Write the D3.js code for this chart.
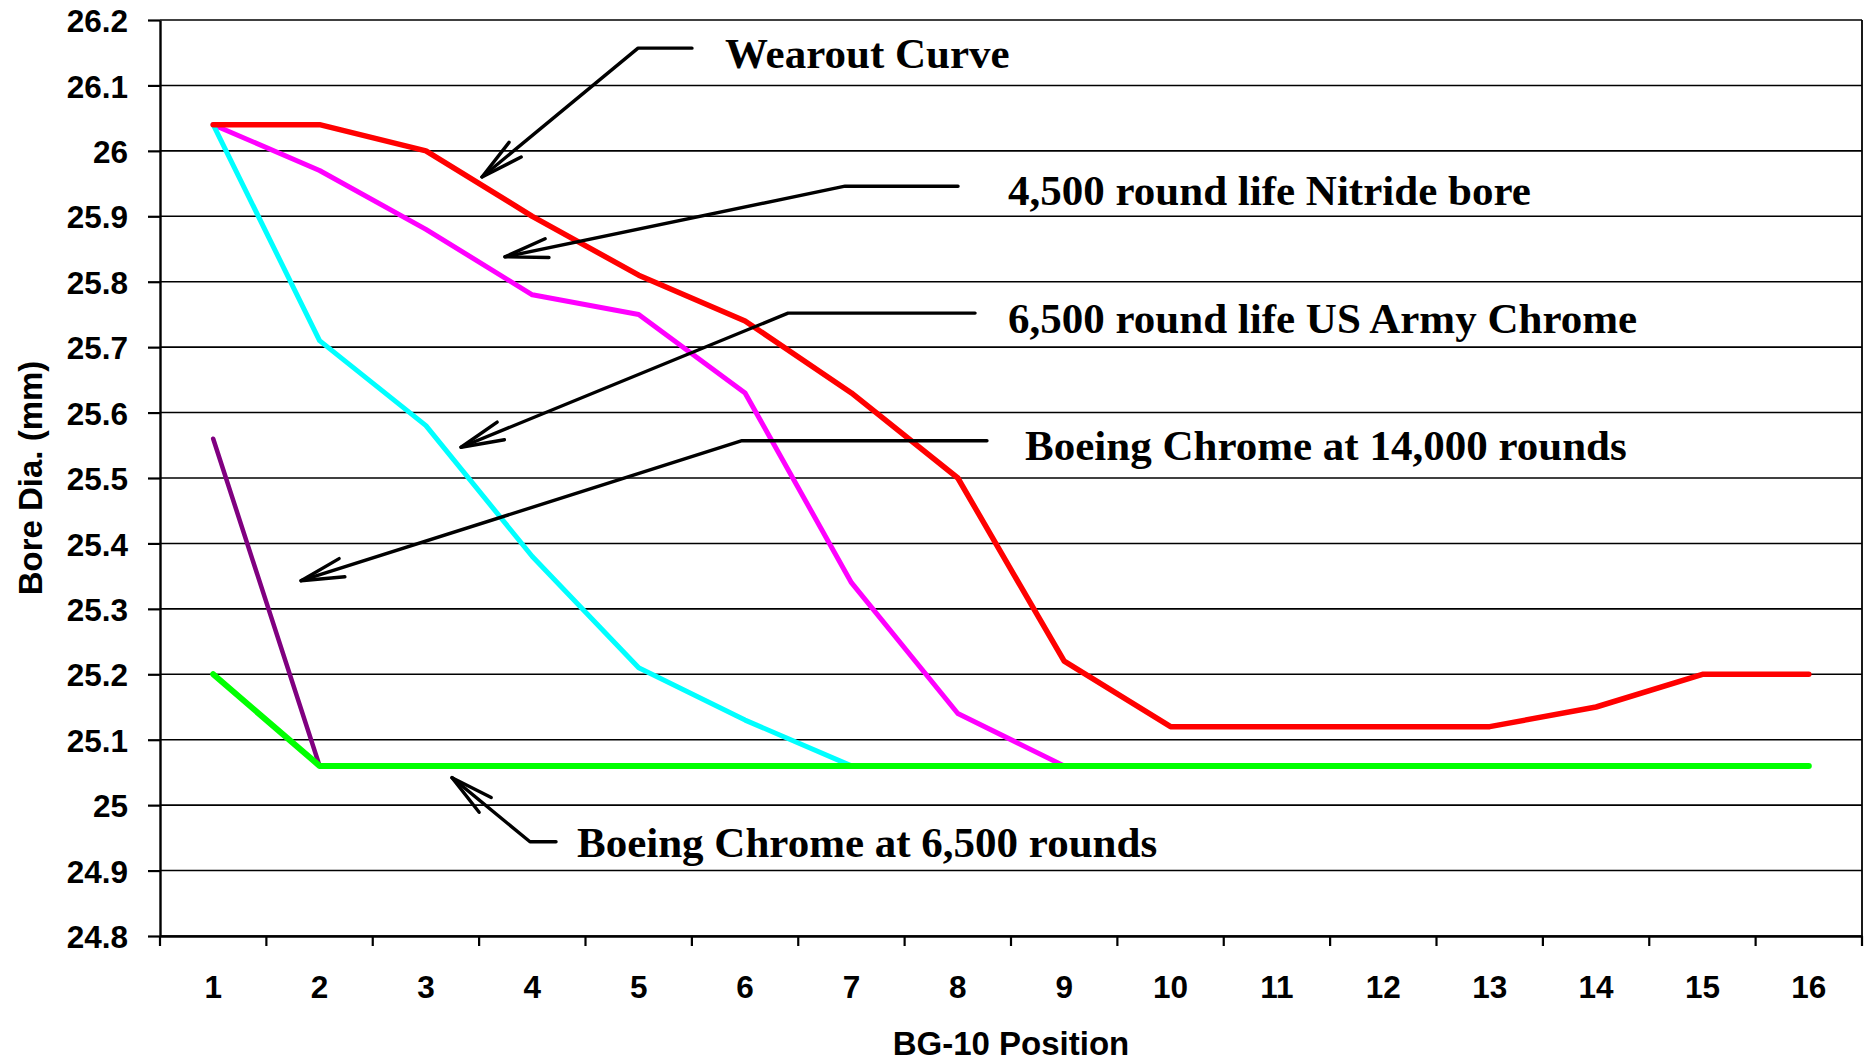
<!DOCTYPE html>
<html>
<head>
<meta charset="utf-8">
<script src="https://cdn.jsdelivr.net/npm/d3@7"></script>
<style>
  html, body { margin: 0; padding: 0; background: #fff; }
  svg { display: block; }
</style>
</head>
<body>
<svg id="chart" width="1864" height="1064"></svg>
<script>
// ---------------- Data ----------------
const positions = [1, 2, 3, 4, 5, 6, 7, 8, 9, 10, 11, 12, 13, 14, 15, 16];
const yTicks = [24.8, 24.9, 25.0, 25.1, 25.2, 25.3, 25.4, 25.5, 25.6, 25.7, 25.8, 25.9, 26.0, 26.1, 26.2];
const yTickLabels = ["24.8", "24.9", "25", "25.1", "25.2", "25.3", "25.4", "25.5", "25.6", "25.7", "25.8", "25.9", "26", "26.1", "26.2"];

const wearoutCurve   = [26.04, 26.04, 26.00, 25.90, 25.81, 25.74, 25.63, 25.50, 25.22, 25.12, 25.12, 25.12, 25.12, 25.15, 25.20, 25.20];
const nitride4500    = [26.04, 25.97, 25.88, 25.78, 25.75, 25.63, 25.34, 25.14, 25.06];
const armyChrome6500 = [26.04, 25.71, 25.58, 25.38, 25.21, 25.13, 25.06];
const boeing14000    = [25.56, 25.06];
const boeing6500     = [25.20, 25.06, 25.06, 25.06, 25.06, 25.06, 25.06, 25.06, 25.06, 25.06, 25.06, 25.06, 25.06, 25.06, 25.06, 25.06];

const seriesNames  = ["Boeing Chrome at 14,000 rounds", "4,500 round life Nitride bore", "6,500 round life US Army Chrome", "Wearout Curve", "Boeing Chrome at 6,500 rounds"];
const seriesValues = [boeing14000, nitride4500, armyChrome6500, wearoutCurve, boeing6500];
const seriesColors = ["#800080", "#FF00FF", "#00FFFF", "#FF0000", "#00FF00"];
const seriesWidths = [4.5, 5, 5, 5.5, 6];

// Annotation callouts, in data units (x = BG-10 position, y = bore dia. mm)
const annotationTexts  = ["Wearout Curve", "4,500 round life Nitride bore", "6,500 round life US Army Chrome", "Boeing Chrome at 14,000 rounds", "Boeing Chrome at 6,500 rounds"];
const annotationTips   = [[3.527, 25.960], [3.743, 25.838], [3.330, 25.547], [1.826, 25.343], [3.245, 25.042]];
const annotationElbows = [[4.994, 26.157], [6.940, 25.946], [6.404, 25.752], [5.971, 25.557], [3.978, 24.944]];
const annotationEnds   = [[5.501, 26.157], [8.002, 25.946], [8.162, 25.752], [8.274, 25.557], [4.223, 24.944]];
const annotationLabels = [[5.811, 26.127], [8.472, 25.917], [8.472, 25.722], [8.632, 25.528], [4.420, 24.921]];

// ---------------- Layout ----------------
const W = 1864, H = 1064;
const pLeft = 160, pRight = 1862, pTop = 20, pBottom = 936;

const svg = d3.select("#chart");
svg.append("rect").attr("width", W).attr("height", H).attr("fill", "#fff");

const x = d3.scaleBand().domain(positions).range([pLeft, pRight]).paddingInner(0).paddingOuter(0);
const xLin = d3.scaleLinear().domain([0.5, 16.5]).range([pLeft, pRight]);
const y = d3.scaleLinear().domain([24.8, 26.2]).range([pBottom, pTop]);
const cx = d => x(d) + x.bandwidth() / 2;

const sansFont = "'Liberation Sans', Arial, Helvetica, sans-serif";
const serifFont = "'Liberation Serif', 'Times New Roman', Times, serif";

// Gridlines
svg.append("g").selectAll("line").data(yTicks).join("line")
  .attr("x1", pLeft).attr("x2", pRight)
  .attr("y1", d => y(d)).attr("y2", d => y(d))
  .attr("stroke", "#000").attr("stroke-width", 1.6);

// Right border
svg.append("line").attr("x1", pRight).attr("x2", pRight).attr("y1", pTop).attr("y2", pBottom)
  .attr("stroke", "#000").attr("stroke-width", 1.8);

// Y axis
const yAxis = d3.axisLeft(y).tickValues(yTicks).tickSize(12).tickSizeOuter(0).tickPadding(20)
  .tickFormat((d, i) => yTickLabels[i]);
const gy = svg.append("g").attr("transform", `translate(${pLeft},0)`).call(yAxis);
gy.select(".domain").attr("stroke", "#000").attr("stroke-width", 2.4);
gy.selectAll(".tick line").attr("stroke", "#000").attr("stroke-width", 2.2);
gy.selectAll(".tick text").attr("font-family", sansFont).attr("font-weight", "bold")
  .attr("font-size", 31.5).attr("fill", "#000").attr("dy", "0.37em");

// X axis (labels at category centres)
const xAxis = d3.axisBottom(x).tickSize(0).tickSizeOuter(0).tickPadding(40);
const gx = svg.append("g").attr("transform", `translate(0,${pBottom})`).call(xAxis);
gx.select(".domain").attr("stroke", "#000").attr("stroke-width", 2.4);
gx.selectAll(".tick text").attr("font-family", sansFont).attr("font-weight", "bold")
  .attr("font-size", 31.5).attr("fill", "#000");

// X tick marks at category boundaries
const boundaries = d3.range(positions.length + 1).map(i => i + 0.5);
svg.append("g").selectAll("line").data(boundaries).join("line")
  .attr("x1", d => xLin(d)).attr("x2", d => xLin(d))
  .attr("y1", pBottom).attr("y2", pBottom + 10)
  .attr("stroke", "#000").attr("stroke-width", 2.2);

// Axis titles
svg.append("text").attr("x", (pLeft + pRight) / 2).attr("y", 1055)
  .attr("text-anchor", "middle").attr("font-family", sansFont).attr("font-weight", "bold")
  .attr("font-size", 33).attr("fill", "#000").text("BG-10 Position");

svg.append("text").attr("transform", `translate(42,${(pTop + pBottom) / 2}) rotate(-90)`)
  .attr("text-anchor", "middle").attr("font-family", sansFont).attr("font-weight", "bold")
  .attr("font-size", 33).attr("fill", "#000").text("Bore Dia. (mm)");

// Series lines
const line = d3.line().x((d, i) => cx(positions[i])).y(d => y(d));
svg.append("g").selectAll("path").data(seriesValues).join("path")
  .attr("d", d => line(d))
  .attr("fill", "none")
  .attr("stroke", (d, i) => seriesColors[i])
  .attr("stroke-width", (d, i) => seriesWidths[i])
  .attr("stroke-linejoin", "round")
  .attr("stroke-linecap", "round")
  .append("title").text((d, i) => seriesNames[i]);

// Annotations
const ag = svg.append("g");
const headLen = 44, headAng = 12.5 * Math.PI / 180;
annotationTexts.forEach((t, i) => {
  const tip = [xLin(annotationTips[i][0]), y(annotationTips[i][1])];
  const elb = [xLin(annotationElbows[i][0]), y(annotationElbows[i][1])];
  const end = [xLin(annotationEnds[i][0]), y(annotationEnds[i][1])];
  ag.append("path")
    .attr("d", d3.line()([tip, elb, end]))
    .attr("fill", "none").attr("stroke", "#000").attr("stroke-width", 3.4)
    .attr("stroke-linejoin", "round").attr("stroke-linecap", "round");
  const a = Math.atan2(elb[1] - tip[1], elb[0] - tip[0]);
  const h1 = [tip[0] + headLen * Math.cos(a - headAng), tip[1] + headLen * Math.sin(a - headAng)];
  const h2 = [tip[0] + headLen * Math.cos(a + headAng), tip[1] + headLen * Math.sin(a + headAng)];
  ag.append("path")
    .attr("d", d3.line()([h1, tip, h2]))
    .attr("fill", "none").attr("stroke", "#000").attr("stroke-width", 3.4)
    .attr("stroke-linejoin", "round").attr("stroke-linecap", "round");
  ag.append("text")
    .attr("x", xLin(annotationLabels[i][0])).attr("y", y(annotationLabels[i][1]))
    .attr("font-family", serifFont).attr("font-weight", "bold").attr("font-size", 43)
    .attr("fill", "#000").text(t);
});
</script>
</body>
</html>
